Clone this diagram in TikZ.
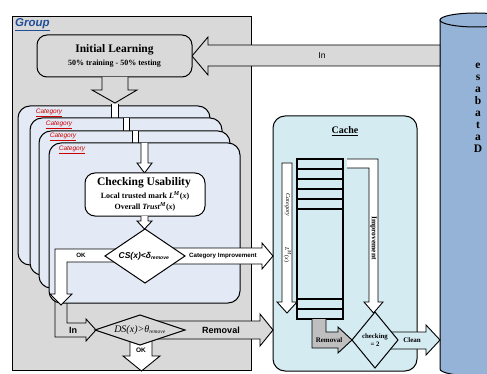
\documentclass[tikz,border=0pt]{standalone}
\usepackage{fontspec}
\setmainfont{Liberation Serif}
\setsansfont{Liberation Sans}
\definecolor{grp}{HTML}{D9D9D9}
\definecolor{catbg}{HTML}{E3EAF5}
\definecolor{cachebg}{HTML}{D3EBF1}
\definecolor{dbblue}{HTML}{95B3D7}
\definecolor{remgray}{HTML}{BFBFBF}
\definecolor{grpblue}{HTML}{1F4E99}
\definecolor{catred}{HTML}{CC0000}
\begin{document}
\begin{tikzpicture}[x=1pt,y=-1pt,line join=miter,
  box/.style={draw=black,line width=1pt},
  blk/.style={draw=black,line width=0.9pt},
  catbox/.style={box,fill=catbg,rounded corners=12pt},
  catlbl/.style={font=\sffamily\itshape\fontsize{6.5}{7}\selectfont,text=catred,inner sep=0pt},
  bartxt/.style={font=\sffamily\bfseries\fontsize{6.2}{7}\selectfont,inner sep=0pt},
  sertxt/.style={font=\bfseries\fontsize{7}{8}\selectfont,inner sep=0pt}]
\useasboundingbox (0,0) rectangle (487,374);

% database
\fill[dbblue] (440,20) rectangle (512,369);
\fill[dbblue] (476,369) ellipse [x radius=36, y radius=7];
\draw[box] (440,20) -- (440,369) arc[start angle=180,end angle=0,x radius=36,y radius=7];
\filldraw[box,fill=dbblue] (476,20) ellipse [x radius=36, y radius=7];
\node[font=\bfseries\fontsize{11.5}{12}\selectfont,align=center,inner sep=0pt] (db) at (478,108) {e\\s\\a\\b\\a\\t\\a\\D};

% group
\draw[box,fill=grp] (12,17) rectangle (251,370);
\node[font=\sffamily\bfseries\itshape\fontsize{11.5}{13}\selectfont,text=grpblue,anchor=west,inner sep=0pt] (grouplbl) at (15,25) {\underline{Group}};

% cache
\draw[box,fill=cachebg,rounded corners=12pt] (273,116) rectangle (417,371);
\node[font=\bfseries\fontsize{10}{11}\selectfont,inner sep=0pt] (cachelbl) at (345,131) {\underline{Cache}};

% In arrow from database
\draw[blk,fill=grp] (440,45) -- (208,45) -- (208,37) -- (192,56) -- (208,75) -- (208,66) -- (440,66) -- cycle;
\node[font=\sffamily\fontsize{8.5}{9}\selectfont,inner sep=0pt] (inlbl) at (322,55.5) {In};

% initial learning
\node[box,fill=grp,rounded corners=10pt,minimum width=155pt,minimum height=42pt,inner sep=0pt] (init) at (114.5,56) {};
\node[font=\bfseries\fontsize{11.5}{12}\selectfont,inner sep=0pt] (inittitle) at (114.5,50) {Initial Learning};
\node[font=\bfseries\fontsize{8}{9}\selectfont,inner sep=0pt] (initsub) at (114.5,64) {50\% training - 50\% testing};
\draw[blk,fill=grp] (102,77) -- (102,90) -- (92,90) -- (115,103) -- (137,90) -- (128,90) -- (128,77);

% gray In arrow below boxes
\draw[blk,fill=grp] (55,300) -- (55,337) -- (86,337) -- (86,341) -- (96,330) -- (86,319) -- (86,323) -- (67,323) -- (67,300);
\node[font=\sffamily\bfseries\fontsize{9}{10}\selectfont,inner sep=0pt] (inlbl2) at (73,330) {In};

% category boxes
\draw[catbox] (18,106) rectangle (210,265);
\node[catlbl] (cat1) at (49,113) {\underline{Category}};
\fill[white] (111,104) rectangle (118,118);
\draw[blk] (111,104) -- (111,118) (118,104) -- (118,118);
\draw[catbox] (30,118) rectangle (222,275);
\node[catlbl] (cat2) at (59,125) {\underline{Category}};
\fill[white] (123,118) rectangle (129,131);
\draw[blk] (123,118) -- (123,131) (129,118) -- (129,131);
\draw[catbox] (39,131) rectangle (230,288);
\node[catlbl] (cat3) at (63,137) {\underline{Category}};
\fill[white] (132,131) rectangle (138,143);
\draw[blk] (132,131) -- (132,143) (138,131) -- (138,143);
\draw[catbox] (49,143) rectangle (240,303);
\node[catlbl] (cat4) at (72,150) {\underline{Category}};
\draw[blk,fill=white] (141,143) -- (141,163) -- (137,163) -- (144.5,173) -- (152,163) -- (148,163) -- (148,143);

% checking usability
\node[box,fill=white,rounded corners=10pt,minimum width=120pt,minimum height=43pt,inner sep=0pt] (chk) at (145,194.5) {};
\node[font=\bfseries\fontsize{11.5}{12}\selectfont,inner sep=0pt] (chk1) at (144,183) {Checking Usability};
\node[font=\bfseries\fontsize{8}{9}\selectfont,inner sep=0pt] (chk2) at (145,196) {Local trusted mark \textit{L}\textsuperscript{\textit{M}}(\textit{x})};
\node[font=\bfseries\fontsize{8}{9}\selectfont,inner sep=0pt] (chk3) at (145,206.5) {Overall \textit{Trust}\textsuperscript{\textit{M}}(\textit{x})};
\draw[blk,fill=white] (141,216) -- (141,221) -- (137,221) -- (144.5,229) -- (152,221) -- (148,221) -- (148,216);

% OK bent arrow and category improvement
\draw[blk,fill=white] (120,249) -- (55,249) -- (55,294) -- (50,294) -- (61,305) -- (72,294) -- (67,294) -- (67,262) -- (120,262);
\node[bartxt] (ok1) at (81,255.5) {OK};
\draw[blk,fill=white] (165,248) -- (262,248) -- (262,243) -- (273,256) -- (262,269) -- (262,264) -- (165,264);
\node[bartxt] (catimp) at (223,256) {Category Improvement};
\draw[box,fill=white] (145,229) -- (185,256) -- (145,283) -- (105,256) -- cycle;
\node[font=\sffamily\bfseries\itshape\fontsize{8.5}{9}\selectfont,inner sep=0pt] (cs) at (144,256) {CS(x)<δ\textsubscript{\fontsize{5}{5}\selectfont remove}};

% removal + OK below second diamond
\draw[blk,fill=grp] (150,321) -- (260,321) -- (260,314) -- (273,330) -- (260,346) -- (260,339) -- (150,339);
\node[font=\sffamily\bfseries\fontsize{9}{10}\selectfont,inner sep=0pt] (rem1) at (221,330) {Removal};
\draw[blk,fill=white] (130,338) -- (130,356) -- (123,356) -- (141.5,371) -- (160,356) -- (152,356) -- (152,338);
\node[bartxt,font=\sffamily\bfseries\fontsize{6.5}{7}\selectfont] (ok2) at (141,350.5) {OK};
\draw[box,fill=grp] (140,315) -- (185,330) -- (140,345) -- (95,330) -- cycle;
\node[font=\itshape\fontsize{10}{11}\selectfont,inner sep=0pt] (ds) at (140,330) {DS(x)>θ\textsubscript{\fontsize{5.5}{6}\selectfont remove}};

% cache internals
\draw[blk,fill=white] (282,163) -- (282,302) -- (277,302) -- (287,313) -- (297,302) -- (292,302) -- (292,163) -- cycle;
\node[rotate=-90,font=\itshape\fontsize{6}{7}\selectfont,inner sep=0pt] (lcat) at (287.5,205) {Category};
\node[rotate=-90,font=\fontsize{6}{7}\selectfont,inner sep=0pt] (lmx) at (287.5,255) {\textit{L}\textsuperscript{\textit{M}}(\textit{x})};
\draw[blk,fill=white] (347,159) -- (378,159) -- (378,302) -- (383,302) -- (373.5,313) -- (364,302) -- (369,302) -- (369,168) -- (347,168);
\node[rotate=-90,font=\bfseries\fontsize{7.5}{8}\selectfont,inner sep=0pt] (impr) at (373.5,238) {Improvement};
\draw[line width=1.6pt] (297,159) rectangle (343,319);
\foreach \yy in {169,179,189,199,209,299,309} \draw[line width=1.6pt] (297,\yy) -- (343,\yy);
\draw[blk,fill=remgray] (312,319) -- (312,348) -- (338,348) -- (338,353) -- (352,340) -- (338,327) -- (338,332) -- (326,332) -- (326,319);
\node[sertxt] (rem2) at (329,340.5) {Removal};
\draw[blk,fill=cachebg] (388,332) -- (426,332) -- (426,325) -- (440,340) -- (426,355) -- (426,349) -- (388,349);
\node[sertxt] (clean) at (412,340.5) {Clean};
\draw[box,fill=cachebg] (375,312) -- (398,340) -- (375,368) -- (352,340) -- cycle;
\node[font=\bfseries\fontsize{6.8}{8.5}\selectfont,align=center,inner sep=0pt] (chk2d) at (375,340) {checking\\= 2};
\end{tikzpicture}
\end{document}
